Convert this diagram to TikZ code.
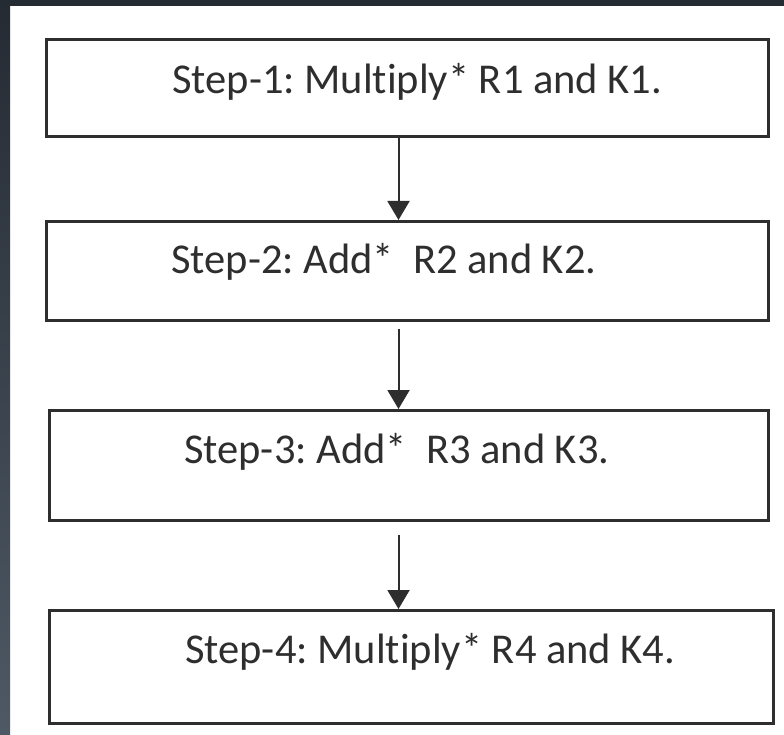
\documentclass[tikz,border=0pt]{standalone}
\usepackage{fontspec}
\setmainfont{Carlito}[Ligatures=NoCommon]
\usetikzlibrary{arrows.meta}
\frenchspacing
\definecolor{slatetop}{HTML}{252B33}
\definecolor{slatebot}{HTML}{4E5965}
\definecolor{inkgray}{HTML}{2E2E2E}
\tikzset{
  stepbox/.style={draw=inkgray, line width=2.6pt, fill=white, anchor=north west,
    inner sep=0pt},
  steptext/.style={anchor=base west, text=inkgray, font=\fontsize{42.5}{46}\selectfont, inner sep=0pt},
  flow/.style={draw=inkgray, line width=2pt, -{Triangle[length=19pt,width=22pt]}},
}
\begin{document}
\begin{tikzpicture}[x=1pt,y=-1pt]
  % canvas and the slate frame along the top and left edges
  \useasboundingbox (0,0) rectangle (784,735);
  \fill[white] (0,0) rectangle (784,735);
  \fill[slatetop] (0,0) rectangle (784,6);
  \shade[top color=slatetop, bottom color=slatebot] (0,0) rectangle (10,735);

  % the four steps
  \node[stepbox, minimum width=722pt, minimum height=97pt] (b1) at (45,38) {};
  \node[stepbox, minimum width=722pt, minimum height=99pt] (b2) at (45,220) {};
  \node[stepbox, minimum width=719pt, minimum height=110pt] (b3) at (48,409) {};
  \node[stepbox, minimum width=724pt, minimum height=113pt] (b4) at (48,609) {};

  \node[steptext] (t1) at (172,93.5) {Step-1: Multiply* R1 and K1.};
  \node[steptext] (t2) at (171,273) {Step-2: Add* \ R2 and K2.};
  \node[steptext] (t3) at (184,463) {Step-3: Add* \ R3 and K3.};
  \node[steptext] (t4) at (185,663) {Step-4: Multiply* R4 and K4.};

  % connectors
  \coordinate (ax) at (398.5,0);
  \draw[flow] (b1.south -| ax) -- (b2.north -| ax);
  \draw[flow] ([yshift=-7pt]b2.south -| ax) -- (b3.north -| ax);
  \draw[flow] ([yshift=-13pt]b3.south -| ax) -- (b4.north -| ax);
\end{tikzpicture}
\end{document}
